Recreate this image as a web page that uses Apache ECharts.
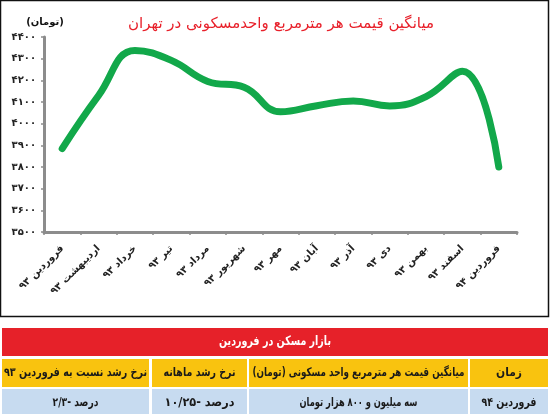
<!DOCTYPE html>
<html>
<head>
<meta charset="utf-8">
<script src="https://cdn.jsdelivr.net/npm/echarts@6/dist/echarts.min.js"></script>
<style>
html,body{margin:0;padding:0;background:#fff;}
#c{width:550px;height:414px;}
</style>
</head>
<body>
<div id="c" dir="rtl"></div>
<script>
const titleText = 'میانگین قیمت هر مترمربع واحدمسکونی در تهران';
const unitText = '(تومان)';
const categories = ['فروردین ۹۳','اردیبهشت ۹۳','خرداد ۹۳','تیر ۹۳','مرداد ۹۳','شهریور ۹۳','مهر ۹۳','آبان ۹۳','آذر ۹۳','دی ۹۳','بهمن ۹۳','اسفند ۹۳','فروردین ۹۴'];
const prices = [3885, 4130, 4338, 4292, 4195, 4168, 4055, 4083, 4105, 4082, 4125, 4242, 3800];
const yMin = 3500, yMax = 4400, yStep = 100;
const tableTitle = 'بازار مسکن در فروردین';
const tableHeaders = ['زمان','میانگین قیمت هر مترمربع واحد مسکونی (تومان)','نرخ رشد ماهانه','نرخ رشد نسبت به فروردین ۹۳'];
const tableRow = ['فروردین ۹۴','سه میلیون و ۸۰۰ هزار تومان','درصد -۱۰/۲۵','درصد -۲/۳'];

const faDigits = '۰۱۲۳۴۵۶۷۸۹';
const toFa = v => String(v).replace(/[0-9]/g, d => faDigits[+d]);

const FONT = 'DejaVu Sans';
const TFONT = 'bold 12px "' + FONT + '"';
const mctx = document.createElement('canvas').getContext('2d');
const measure = (t, f) => { mctx.font = f; return mctx.measureText(t).width; };

// layout (styling only)
const cols = [[470,548],[249,468],[152,247],[2,149]];
const headerW = [26, 212, 72, 143];
const rowW = [55, 118, 70, 46];
const txt = (t, x, y, w, color, font) => {
  font = font || TFONT;
  const sx = Math.min(1, w / measure(t, font));
  return {type:'text', x:x, y:y, scaleX:sx, z:10,
    style:{text:t, fill:color, font:font, textAlign:'center', textVerticalAlign:'middle'}};
};

const graphics = [
  {type:'rect', shape:{x:0.5,y:0.5,width:548,height:316}, style:{fill:'none',stroke:'#111',lineWidth:1.5}, z:0},
  {type:'rect', shape:{x:2,y:328,width:546,height:28}, style:{fill:'#e62129'}},
  txt(tableTitle, 275, 342, 112, '#fff', 'bold 13px "' + FONT + '"')
];
cols.forEach((c,i)=>{
  const cx = (c[0]+c[1])/2;
  graphics.push({type:'rect', shape:{x:c[0],y:359,width:c[1]-c[0],height:28}, style:{fill:'#f9c30f'}});
  graphics.push({type:'rect', shape:{x:c[0],y:389,width:c[1]-c[0],height:28}, style:{fill:'#c7dbf0'}});
  graphics.push(txt(tableHeaders[i], cx, 373, headerW[i], '#1a1a1a'));
  graphics.push(txt(tableRow[i], cx, 403, rowW[i], '#1a1a1a'));
});
graphics.push({type:'text', x:45, y:22, z:10, style:{text:unitText, fill:'#111', font:'bold 10px "'+FONT+'"', textAlign:'center', textVerticalAlign:'middle'}});

const chart = echarts.init(document.getElementById('c'), null, {renderer:'canvas'});
chart.setOption({
  animation:false,
  backgroundColor:'#fff',
  title:{text:titleText, left:276, top:12, textAlign:'center',
    textStyle:{color:'#e8202a', fontFamily:FONT, fontSize:15, fontWeight:'normal'}},
  grid:{left:44, right:33, top:37, bottom:182, containLabel:false},
  xAxis:{type:'category', data:categories, boundaryGap:true,
    axisLine:{lineStyle:{color:'#8c8c8c', width:3}},
    axisTick:{show:true, length:3, lineStyle:{color:'#8c8c8c', width:1.5}},
    axisLabel:{rotate:45, margin:15, color:'#222', fontFamily:FONT, fontSize:10, fontWeight:'bold', interval:0},
    splitLine:{show:false}},
  yAxis:{type:'value', min:yMin, max:yMax, interval:yStep,
    axisLine:{show:true, lineStyle:{color:'#8c8c8c', width:3}},
    axisTick:{show:true, length:3, lineStyle:{color:'#8c8c8c', width:1.5}},
    axisLabel:{formatter:v=>toFa(v), color:'#222', fontFamily:FONT, fontSize:10, fontWeight:'bold', margin:8},
    splitLine:{show:false}},
  series:[{type:'line', data:prices, smooth:0.45, symbol:'none',
    lineStyle:{color:'#12a84a', width:7, cap:'round', join:'round'}}],
  graphic:graphics
});
</script>
</body>
</html>
